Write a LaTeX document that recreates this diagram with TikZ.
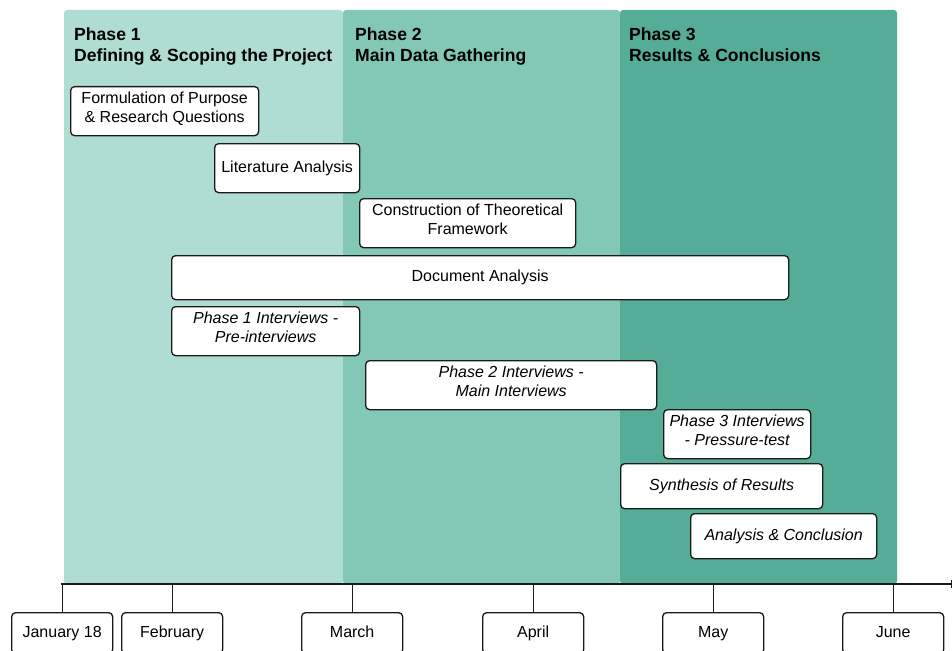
\documentclass[tikz,border=0pt]{standalone}
\usepackage{fontspec}
\setmainfont{Liberation Sans}
\usetikzlibrary{arrows.meta}
\definecolor{phaseA}{HTML}{B0DDD3}
\definecolor{phaseB}{HTML}{83C8B6}
\definecolor{phaseC}{HTML}{55AC97}
\definecolor{edge}{HTML}{1A1A1A}
\begin{document}
\begin{tikzpicture}[x=1pt,y=-1pt,
  column/.style={rounded corners=3pt},
  heading/.style={anchor=north west, inner sep=0pt, align=left,
    font=\bfseries\fontsize{17.6}{21}\selectfont},
  task/.style={draw=edge, line width=1.3pt, fill=white, rounded corners=4pt,
    anchor=north west, align=center, inner sep=0pt,
    font=\fontsize{16}{19}\selectfont},
  itask/.style={task, font=\itshape\fontsize{16}{19}\selectfont},
  twoline/.style={text depth=7.5pt},
  month/.style={task, minimum width=101pt, minimum height=41pt,
    text height=11.5pt, text depth=3.5pt},
  tick/.style={draw=edge, line width=1.3pt}]

\useasboundingbox (0,0) rectangle (952,650);
\clip (0,0) rectangle (952,650);

% phase columns
\fill[phaseA, column] (64,10) rectangle (343,584);
\fill[phaseB, column] (343,10) rectangle (620,584);
\fill[phaseC, column] (620,10) rectangle (897,584);

\node[heading] (h1) at (74,28) {Phase 1\\Defining \& Scoping the Project};
\node[heading] (h2) at (355,28) {Phase 2\\Main Data Gathering};
\node[heading] (h3) at (629,28) {Phase 3\\Results \& Conclusions};

% activities
\node[task, twoline, minimum width=188pt, minimum height=49pt] (form) at (70,86)
  {Formulation of Purpose\\\& Research Questions};
\node[task, minimum width=145pt, minimum height=49pt] (lit) at (214,143)
  {Literature Analysis};
\node[task, twoline, minimum width=216pt, minimum height=49pt] (theo) at (359,198)
  {Construction of Theoretical\\Framework};
\node[task, minimum width=617pt, minimum height=44pt] (doc) at (171,255)
  {Document Analysis};
\node[itask, twoline, minimum width=188pt, minimum height=49pt] (int1) at (171,306)
  {Phase 1 Interviews -\\Pre-interviews};
\node[itask, twoline, minimum width=291pt, minimum height=49pt] (int2) at (365,360)
  {Phase 2 Interviews -\\Main Interviews};
\node[itask, twoline, minimum width=147pt, minimum height=49pt] (int3) at (663,409)
  {Phase 3 Interviews\\- Pressure-test};
\node[itask, minimum width=202pt, minimum height=45pt] (syn) at (620,463)
  {Synthesis of Results};
\node[itask, minimum width=186pt, minimum height=45pt] (conc) at (690,513)
  {Analysis \& Conclusion};

% time axis
\coordinate (axisL) at (61,584);
\coordinate (axisR) at (960,584);
\draw[tick, -{Triangle[length=9pt,width=8pt]}] (axisL) -- (axisR);

\node[month] (jan) at (11,612) {January 18};
\node[month] (feb) at (121,612) {February};
\node[month] (mar) at (301,612) {March};
\node[month] (apr) at (482,612) {April};
\node[month] (may) at (662,612) {May};
\node[month] (jun) at (842,612) {June};

\foreach \m in {jan,feb,mar,apr,may,jun}
  \draw[tick] (\m.north) -- (\m.north |- axisL);
\end{tikzpicture}
\end{document}
